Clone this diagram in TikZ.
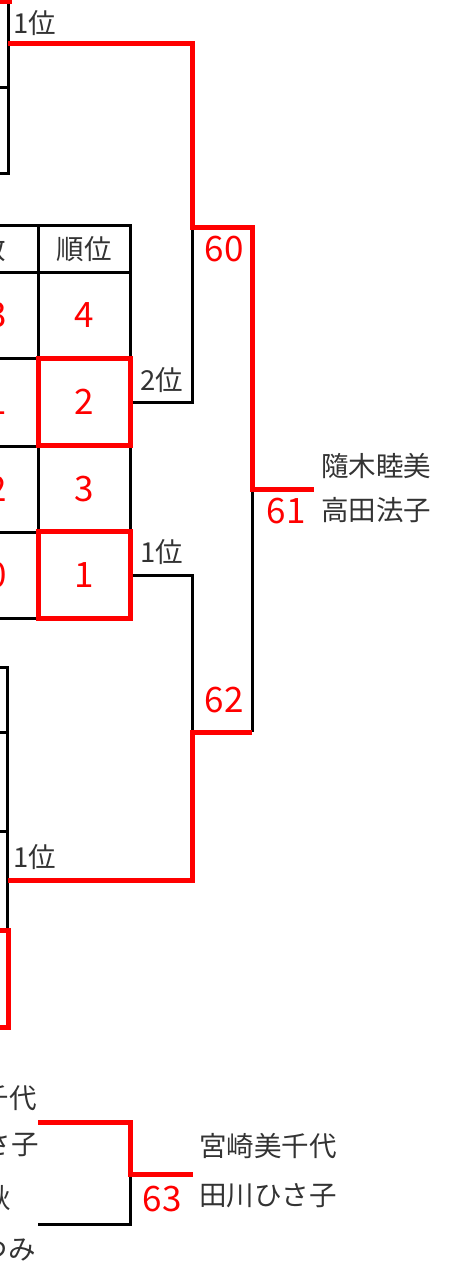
\documentclass[tikz,border=0pt]{standalone}
\usepackage{fontspec}
\newfontfamily\jpfont{Noto Sans CJK JP}
\usepackage{tikz}
\usetikzlibrary{calc}
\definecolor{hanred}{RGB}{255,0,0}
\definecolor{inkgray}{RGB}{51,51,51}
\tikzset{
  every node/.append style={font=\jpfont, inner sep=0pt},
}

\begin{document}
\begin{tikzpicture}[
  x=1pt, y=-1pt,
  % --- line and text styles ---
  blk/.style={draw=black, line width=3pt},
  winline/.style={draw=hanred, line width=5pt},
  placetext/.style={text=inkgray, font=\jpfont\fontsize{27.5}{30}\selectfont},
  score/.style={text=hanred, font=\jpfont\fontsize{35}{38}\selectfont},
  rankcell/.style={score, minimum width=92pt, minimum height=87pt},
  wincell/.style={rankcell, draw=hanred, line width=5pt},
]

% --- Frame (page = crop of the bracket sheet) ---
\useasboundingbox (0,0) rectangle (452,1263);
\clip (0,0) rectangle (452,1263);

% --- Top group table (only its right edge shows) ---
\draw[blk] (8,-10) -- (8,173) -- (-20,173);
\draw[blk] (-20,87) -- (8,87);
\draw[winline] (-20,1.5) -- (9.5,1.5) -- (9.5,-20);

% --- Middle group table ---
\draw[blk] (-20,225) rectangle (130,618);
\foreach \y in {272,358,446,532}
  \draw[blk] (-20,\y) -- (130,\y);
\draw[blk] (38,225) -- (38,618);

\node[placetext, anchor=east] (hdwins) at (6,249) {勝数};
\node[placetext] (hdrank) at (84,249) {順位};

\node[score] (wins4) at (-3,315) {3};
\node[score] (wins2) at (-3,402) {1};
\node[score] (wins3) at (-3,489) {2};
\node[score] (wins1) at (-3,575) {0};

\node[rankcell] (rk4) at (84,315) {4};
\node[wincell] (rk2) at (84,402) {2};
\node[rankcell] (rk3) at (84,489) {3};
\node[wincell] (rk1) at (84,575) {1};

% --- Lower group table (only its right edge shows) ---
\draw[blk] (-20,667) -- (7,667) -- (7,930);
\draw[blk] (-20,732) -- (7,732);
\draw[blk] (-20,831) -- (7,831);
\draw[winline] (-20,930) rectangle (8,1027);

% --- Bracket junctions ---
\coordinate (top1) at (8,44);
\coordinate (bot1) at (8,880);
\coordinate (j60) at (192,227);
\coordinate (j62) at (192,732);
\coordinate (j61) at (252,489);
\coordinate (w61) at (314,489);

% losing sides first, winning path on top
\draw[blk] (rk2.east) -| (j60);
\draw[blk] (rk1.east) -| (j62);
\draw[blk] (j62 -| j61) -- (j61);
\draw[winline] (top1) -| (j60) -| (j61) -- (w61);
\draw[winline] (bot1) -| (j62) -- (j62 -| j61);

\node[placetext, anchor=west] (pl1top) at (13,23) {1位};
\node[placetext] (pl2mid) at (162,380) {2位};
\node[placetext] (pl1mid) at (162,552) {1位};
\node[placetext, anchor=west] (pl1bot) at (13,857) {1位};

\node[score] (m60) at (224,249) {60};
\node[score] (m62) at (224,700) {62};
\node[score] (m61) at (286,511) {61};

\node[placetext, anchor=west] (win61a) at (321,466) {隨木睦美};
\node[placetext, anchor=west] (win61b) at (321,510) {高田法子};

% --- Pair match 63 ---
\node[placetext, anchor=east] (ent1) at (37,1098) {宮崎美千代};
\node[placetext, anchor=east] (ent2) at (39,1145) {田川ひさ子};
\node[placetext, anchor=east] (ent3) at (11,1198) {秋};
\node[placetext, anchor=east] (ent4) at (36,1250) {つみ};

\coordinate (t63a) at (38,1122);
\coordinate (t63b) at (38,1224);
\coordinate (j63) at (130,1174);
\coordinate (w63) at (193,1174);

\draw[blk] (j63) |- (t63b);
\draw[winline] (t63a) -| (j63) -- (w63);

\node[score] (m63) at (162,1199) {63};
\node[placetext, anchor=west] (win63a) at (199,1146) {宮崎美千代};
\node[placetext, anchor=west] (win63b) at (199,1196) {田川ひさ子};

\end{tikzpicture}
\end{document}
